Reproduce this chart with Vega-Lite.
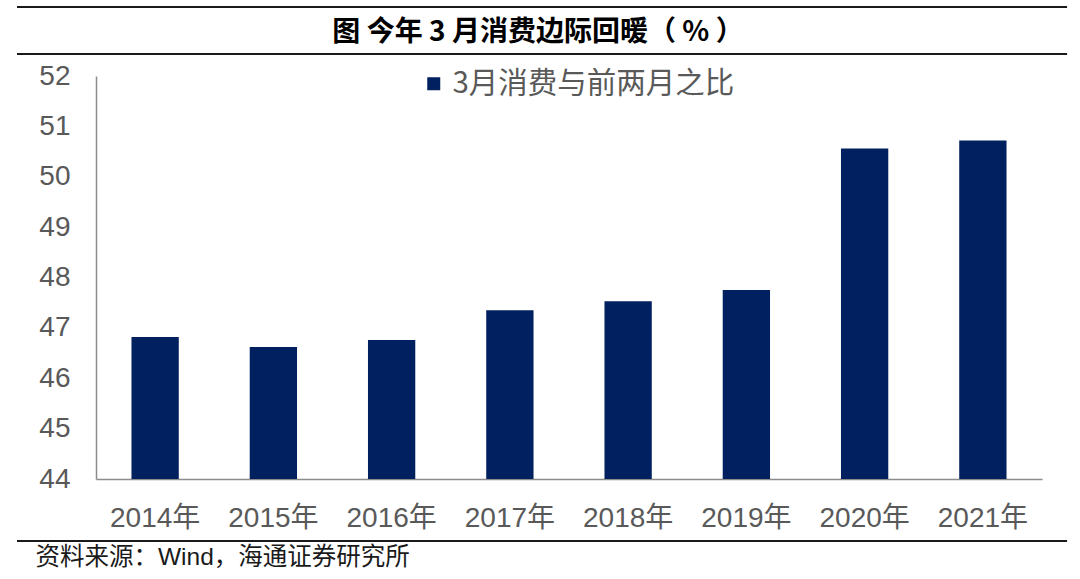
{
  "$schema": "https://vega.github.io/schema/vega-lite/v6.json",
  "width": 946,
  "height": 403,
  "autosize": {"type": "none"},
  "padding": {"left": 96, "top": 76, "right": 38, "bottom": 100},
  "background": "white",
  "config": {
    "view": {"stroke": null},
    "font": "Liberation Sans, Noto Sans CJK SC"
  },
  "title": {
    "text": "图  今年 3 月消费边际回暖（ % ）",
    "font": "Noto Sans CJK SC",
    "fontSize": 28,
    "fontWeight": "bold",
    "color": "#000000",
    "anchor": "middle",
    "frame": "group",
    "dx": -31,
    "offset": -41
  },
  "data": {
    "values": [
      {"year": "2014年", "value": 46.82, "series": "3月消费与前两月之比"},
      {"year": "2015年", "value": 46.62, "series": "3月消费与前两月之比"},
      {"year": "2016年", "value": 46.76, "series": "3月消费与前两月之比"},
      {"year": "2017年", "value": 47.35, "series": "3月消费与前两月之比"},
      {"year": "2018年", "value": 47.53, "series": "3月消费与前两月之比"},
      {"year": "2019年", "value": 47.75, "series": "3月消费与前两月之比"},
      {"year": "2020年", "value": 50.56, "series": "3月消费与前两月之比"},
      {"year": "2021年", "value": 50.72, "series": "3月消费与前两月之比"}
    ]
  },
  "layer": [
    {
      "mark": {"type": "bar", "clip": true},
      "encoding": {
        "x": {
          "field": "year",
          "type": "nominal",
          "sort": null,
          "scale": {"paddingInner": 0.6, "paddingOuter": 0.3},
          "axis": {
            "labelAngle": 0,
            "labelFontSize": 28,
            "labelColor": "#595959",
            "labelPadding": 25,
            "ticks": false,
            "domainColor": "#8c8c8c",
            "domainWidth": 1.5,
            "title": "资料来源：Wind，海通证券研究所",
            "titleFont": "Liberation Sans, Noto Sans CJK SC",
            "titleFontSize": 24.5,
            "titleFontWeight": "normal",
            "titleColor": "#1a1a1a",
            "titleAnchor": "start",
            "titleAlign": "left",
            "titleBaseline": "middle",
            "titleX": -61,
            "titleY": 78
          }
        },
        "y": {
          "field": "value",
          "type": "quantitative",
          "scale": {"domain": [44, 52], "nice": false, "zero": false},
          "axis": {
            "values": [44, 45, 46, 47, 48, 49, 50, 51, 52],
            "labelFontSize": 28,
            "labelColor": "#595959",
            "labelPadding": 26,
            "ticks": false,
            "grid": false,
            "domainColor": "#8c8c8c",
            "domainWidth": 1.5,
            "title": null
          }
        },
        "color": {
          "field": "series",
          "type": "nominal",
          "scale": {"range": ["#002060"]},
          "legend": {
            "title": null,
            "orient": "none",
            "legendX": 323,
            "legendY": -7,
            "symbolType": "square",
            "symbolSize": 169,
            "symbolStrokeWidth": 0,
            "labelFontSize": 29.5,
            "labelColor": "#595959",
            "labelFont": "Noto Sans CJK SC",
            "labelLimit": 400,
            "labelOffset": 4
          }
        }
      }
    },
    {
      "data": {"values": [{}]},
      "mark": {"type": "rule", "color": "#1a1a1a", "strokeWidth": 2},
      "encoding": {
        "y": {"datum": 53.37, "type": "quantitative"},
        "x": {"datum": "2014年", "bandPosition": -2.42},
        "x2": {"datum": "2021年", "bandPosition": 2.28}
      }
    },
    {
      "data": {"values": [{}]},
      "mark": {"type": "rule", "color": "#1a1a1a", "strokeWidth": 2},
      "encoding": {
        "y": {"datum": 52.437, "type": "quantitative"},
        "x": {"datum": "2014年", "bandPosition": -2.42},
        "x2": {"datum": "2021年", "bandPosition": 2.28}
      }
    },
    {
      "data": {"values": [{}]},
      "mark": {"type": "rule", "color": "#1a1a1a", "strokeWidth": 2},
      "encoding": {
        "y": {"datum": 42.77, "type": "quantitative"},
        "x": {"datum": "2014年", "bandPosition": -2.42},
        "x2": {"datum": "2021年", "bandPosition": 2.28}
      }
    }
  ]
}
